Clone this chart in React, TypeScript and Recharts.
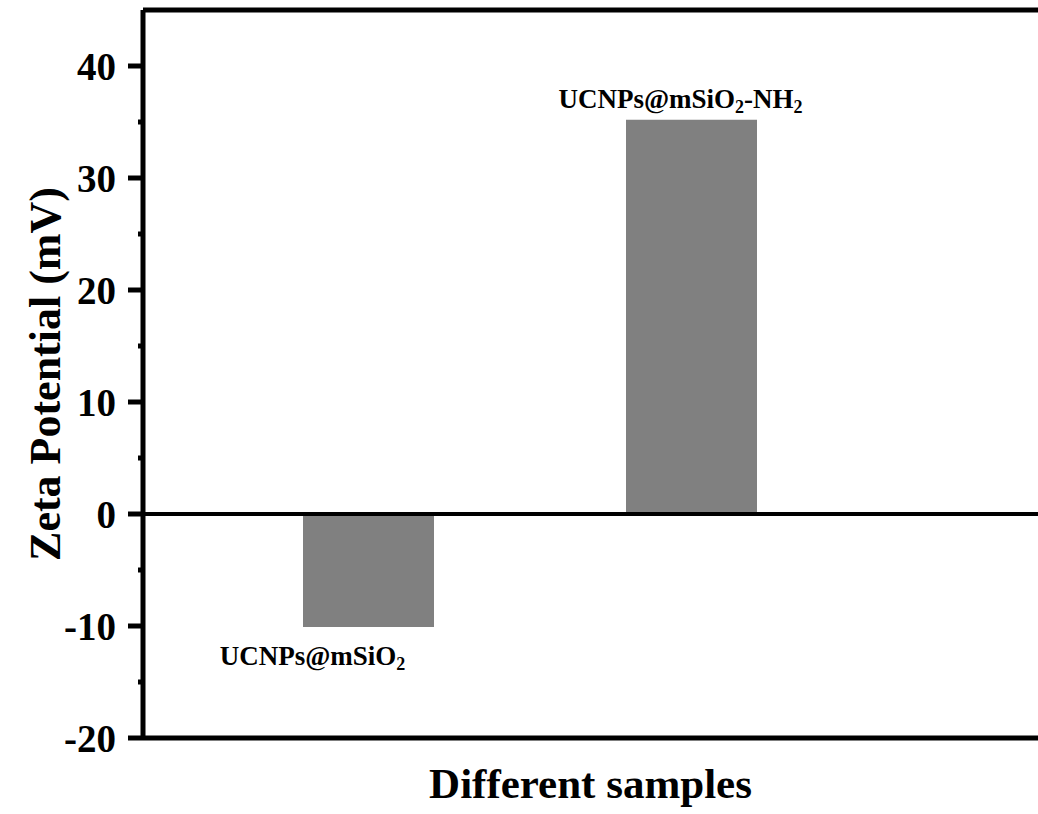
import { BarChart, Bar, XAxis, YAxis, ReferenceLine, LabelList, Label } from "recharts";

const samples = ["UCNPs@mSiO2", "UCNPs@mSiO2-NH2"];
const zeta = [-10.1, 35.2];
const yMajorTicks = [-20, -10, 0, 10, 20, 30, 40];
const yMinorTicks = [-15, -5, 5, 15, 25, 35];

const data = samples.map((s, i) => ({ sample: s, value: zeta[i] }));

const FONT = "'Liberation Serif', 'Times New Roman', serif";
const AXIS_X = 143;

const YTick = (props: any) => {
  const { y, payload } = props;
  const v = payload.value;
  const major = yMajorTicks.includes(v);
  return (
    <g>
      <line x1={AXIS_X - (major ? 15 : 5)} x2={AXIS_X} y1={y} y2={y} stroke="#000" strokeWidth={5} />
      {major && (
        <text x={AXIS_X - 27} y={y} dy="0.36em" textAnchor="end" fontFamily={FONT} fontWeight="bold" fontSize={39} fill="#000">
          {v}
        </text>
      )}
    </g>
  );
};

// sample names carry chemical subscripts
const BarName = (props: any) => {
  const { x, y, width, height, index } = props;
  const cx = x + width / 2;
  const neg = zeta[index] < 0;
  const ty = neg ? Math.max(y, y + height) + 38 : Math.min(y, y + height) - 12;
  const dx = neg ? -56 : -11;
  const sub = { fontSize: 18, baselineShift: "-30%" } as any;
  return (
    <text x={cx + dx} y={ty} textAnchor="middle" fontFamily={FONT} fontWeight="bold" fontSize={27} fill="#000">
      UCNPs@mSiO<tspan style={sub}>2</tspan>
      {!neg && <tspan>-NH</tspan>}
      {!neg && <tspan style={sub}>2</tspan>}
    </text>
  );
};

const YTitle = (props: any) => {
  const vb = props.viewBox;
  const cy = vb.y + vb.height / 2;
  return (
    <text x={60} y={cy} transform={`rotate(-90 60 ${cy})`} textAnchor="middle" fontFamily={FONT} fontWeight="bold" fontSize={44} fill="#000">
      Zeta Potential (mV)
    </text>
  );
};

export default function App() {
  return (
    <div style={{ position: "absolute", left: 0, top: 0, background: "#fff" }}>
      <BarChart width={1038} height={814} data={data} margin={{ top: 10, right: 0, left: 0, bottom: 0 }}>
        <XAxis
          dataKey="sample"
          tick={false}
          tickLine={false}
          axisLine={{ stroke: "#000", strokeWidth: 5 }}
          height={76}
          padding={{ left: 64, right: 185 }}
        >
          <Label
            value="Different samples"
            position="insideBottom"
            offset={16}
            style={{ fontFamily: FONT, fontWeight: "bold", fontSize: 43, fill: "#000" }}
          />
        </XAxis>
        <YAxis
          type="number"
          domain={[-20, 45]}
          ticks={[...yMajorTicks, ...yMinorTicks].sort((a, b) => a - b)}
          width={AXIS_X}
          tickLine={false}
          tickSize={15}
          tickMargin={0}
          tick={YTick}
          axisLine={{ stroke: "#000", strokeWidth: 5 }}
          interval={0}
        >
          <Label content={YTitle} />
        </YAxis>
        <Bar dataKey="value" fill="#808080" barSize={131} isAnimationActive={false}>
          <LabelList dataKey="value" content={BarName} />
        </Bar>
        <ReferenceLine y={0} stroke="#000" strokeWidth={4} />
        <ReferenceLine y={45} stroke="#000" strokeWidth={5} />
      </BarChart>
    </div>
  );
}
